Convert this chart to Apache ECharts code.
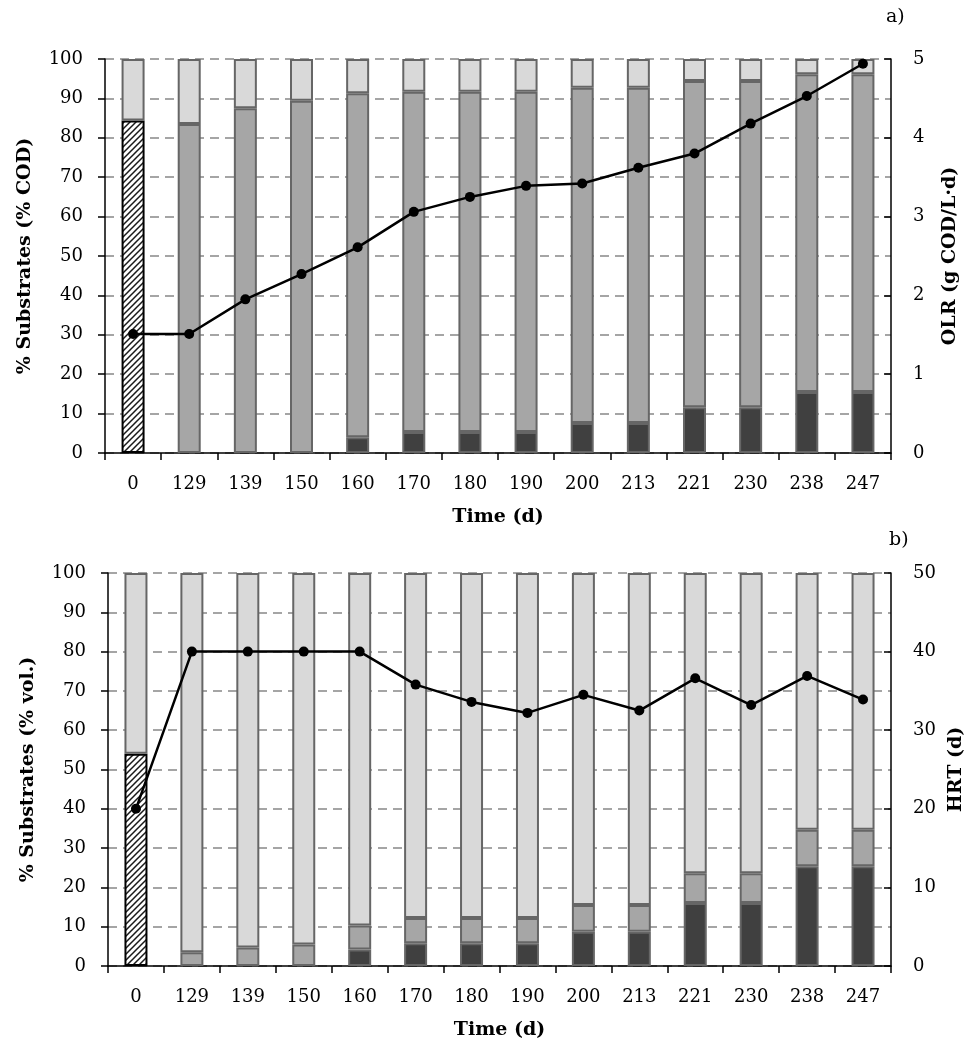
<!DOCTYPE html>
<html>
<head>
<meta charset="utf-8">
<title>Substrates</title>
<script src="https://cdn.jsdelivr.net/npm/echarts@6/dist/echarts.min.js"></script>
<style>
 html,body{margin:0;padding:0;background:#fff;}
 #chart{width:976px;height:1049px;}
</style>
</head>
<body>
<div id="chart"></div>
<script>
// time axis (d)
var categories = ['0','129','139','150','160','170','180','190','200','213','221','230','238','247'];

// a) % COD
var codDark  = ['-','-','-','-',4.0,5.3,5.3,5.3,7.6,7.6,11.6,11.6,15.5,15.5];
var codHatch = [84.4,'-','-','-','-','-','-','-','-','-','-','-','-','-'];
var codMid   = ['-',83.5,87.5,89.4,87.3,86.4,86.4,86.4,85.1,85.1,82.8,82.8,80.6,80.6];
var codLight = [15.6,16.5,12.5,10.6,8.7,8.3,8.3,8.3,7.3,7.3,5.6,5.6,3.9,3.9];
var olr      = [1.51,1.51,1.95,2.27,2.61,3.06,3.25,3.39,3.42,3.62,3.80,4.18,4.53,4.94];

// b) % vol.
var volDark  = ['-','-','-','-',4.2,5.8,5.8,5.8,8.7,8.7,16.0,16.0,25.4,25.4];
var volHatch = [54.0,'-','-','-','-','-','-','-','-','-','-','-','-','-'];
var volMid   = ['-',3.5,4.7,5.5,6.1,6.4,6.4,6.4,6.8,6.8,7.6,7.6,9.3,9.3];
var volLight = [46.0,96.5,95.3,94.5,89.7,87.8,87.8,87.8,84.5,84.5,76.4,76.4,65.3,65.3];
var hrt      = [20.0,40.0,40.0,40.0,40.0,35.8,33.6,32.2,34.5,32.5,36.6,33.2,36.9,33.9];

var yTicksLeft = [0,100,10];
var yTicksOlr  = [0,5,1];
var yTicksHrt  = [0,50,10];

var FONT = 'DejaVu Serif';

// diagonal hatch for day 0
function hatchPattern(){
	var c = document.createElement('canvas');
	c.width = 6; c.height = 6;
	var ctx = c.getContext('2d');
	ctx.fillStyle = '#fff';
	ctx.fillRect(0,0,6,6);
	ctx.strokeStyle = '#1a1a1a';
	ctx.lineWidth = 1.5;
	ctx.beginPath();
	ctx.moveTo(0,6); ctx.lineTo(6,0);
	ctx.moveTo(-1,1); ctx.lineTo(1,-1);
	ctx.moveTo(5,7); ctx.lineTo(7,5);
	ctx.stroke();
	return c;
}
var hatch = {image: hatchPattern(), repeat: 'repeat'};

function xAxisCfg(gi){
	return {
		type:'category', gridIndex:gi, data:categories,
		name:'Time (d)', nameLocation:'middle', nameGap:55,
		nameTextStyle:{fontFamily:FONT, fontWeight:'bold', fontSize:19, color:'#000'},
		axisLine:{lineStyle:{color:'#000', width:1.5}},
		axisTick:{show:true, interval:0, length:7, lineStyle:{color:'#000', width:1.5}},
		axisLabel:{interval:0, margin:22, fontFamily:FONT, fontSize:18, color:'#000'}
	};
}
function yLeftCfg(gi, name, t){
	return {
		type:'value', gridIndex:gi, min:t[0], max:t[1], interval:t[2], position:'left',
		name:name, nameLocation:'middle', nameGap:70, nameRotate:90,
		nameTextStyle:{fontFamily:FONT, fontWeight:'bold', fontSize:19, color:'#000'},
		axisLine:{show:true, lineStyle:{color:'#000', width:1.5}},
		axisTick:{show:true, length:7, lineStyle:{color:'#000', width:1.5}},
		axisLabel:{margin:22, fontFamily:FONT, fontSize:18, color:'#000'},
		splitLine:{show:true, lineStyle:{color:'#888', width:1.5, type:[9,6]}}
	};
}
function yRightCfg(gi, name, t){
	return {
		type:'value', gridIndex:gi, min:t[0], max:t[1], interval:t[2], position:'right',
		name:name, nameLocation:'middle', nameGap:50, nameRotate:90,
		nameTextStyle:{fontFamily:FONT, fontWeight:'bold', fontSize:19, color:'#000'},
		axisLine:{show:true, lineStyle:{color:'#000', width:1.5}},
		axisTick:{show:true, inside:true, length:7, lineStyle:{color:'#000', width:1.5}},
		axisLabel:{margin:22, fontFamily:FONT, fontSize:18, color:'#000'},
		splitLine:{show:false}
	};
}
function barCfg(xi, yi, stack, data, color, border){
	return {
		type:'bar', xAxisIndex:xi, yAxisIndex:yi, stack:stack, data:data,
		barWidth:23,
		itemStyle:{color:color, borderColor:border || '#666', borderWidth:2},
		emphasis:{disabled:true}
	};
}
function lineCfg(xi, yi, data){
	return {
		type:'line', xAxisIndex:xi, yAxisIndex:yi, data:data, z:10,
		symbol:'circle', symbolSize:10,
		lineStyle:{color:'#000', width:2.5},
		itemStyle:{color:'#000'}
	};
}

var myChart = echarts.init(document.getElementById('chart'));
var option = {
	animation:false,
	grid:[
		{left:105, right:85, top:59, height:394},
		{left:108, right:85, top:573, height:393}
	],
	xAxis:[xAxisCfg(0), xAxisCfg(1)],
	yAxis:[
		yLeftCfg(0, '% Substrates (% COD)', yTicksLeft),
		yRightCfg(0, 'OLR (g COD/L\u00b7d)', yTicksOlr),
		yLeftCfg(1, '% Substrates (% vol.)', yTicksLeft),
		yRightCfg(1, 'HRT (d)', yTicksHrt)
	],
	graphic:[
		{type:'text', left:886, top:8, style:{text:'a)', font:'19px "DejaVu Serif"', fill:'#000'}},
		{type:'text', left:889, top:531, style:{text:'b)', font:'19px "DejaVu Serif"', fill:'#000'}}
	],
	series:[
		barCfg(0,0,'cod', codDark, '#404040'),
		barCfg(0,0,'cod', codHatch, hatch, '#000'),
		barCfg(0,0,'cod', codMid, '#a6a6a6'),
		barCfg(0,0,'cod', codLight, '#d9d9d9'),
		lineCfg(0,1, olr),
		barCfg(1,2,'vol', volDark, '#404040'),
		barCfg(1,2,'vol', volHatch, hatch, '#000'),
		barCfg(1,2,'vol', volMid, '#a6a6a6'),
		barCfg(1,2,'vol', volLight, '#d9d9d9'),
		lineCfg(1,3, hrt)
	]
};
myChart.setOption(option);
</script>
</body>
</html>
